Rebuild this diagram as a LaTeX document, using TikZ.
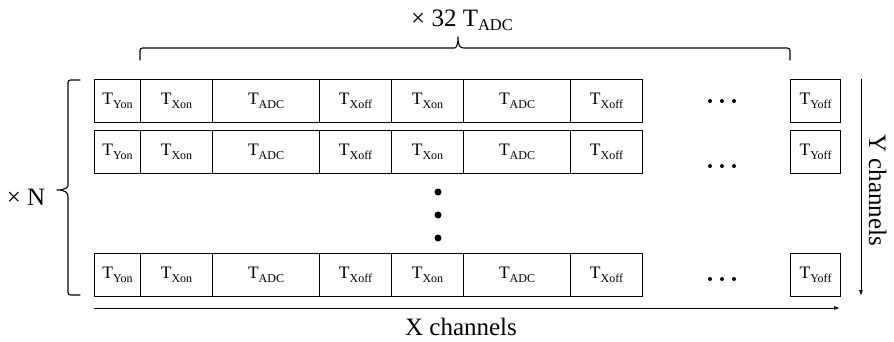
\documentclass[tikz,border=0pt]{standalone}
\usepackage{fontspec}
\setmainfont{Liberation Serif}
\usetikzlibrary{arrows.meta}
% T with a lowered roman subscript: #1 text, #2 size, #3 drop
\newcommand\tsub[3]{T\raisebox{-#3}{\fontsize{#2}{#2}\selectfont #1}}

\begin{document}
\begin{tikzpicture}[x=1pt,y=-1pt,
  cell/.style={draw, line width=1.1pt, inner sep=0pt, minimum height=43pt,
    anchor=north west, font=\fontsize{17.5}{20}\selectfont},
  lbl/.style={font=\fontsize{25}{29}\selectfont, inner sep=0pt},
  axis/.style={line width=0.9pt, -{Latex[length=6pt,width=4pt]}},
  brace/.style={line width=1.1pt, line join=round, line cap=round}]
\useasboundingbox (0,0) rectangle (894,342);

% three rows of timing slots
\foreach \r/\y in {1/79,2/130,3/253}{
  \foreach \i/\x/\w/\t in {1/94/46/Yon, 2/140/72/Xon, 3/212/107/ADC,
      4/319/72/Xoff, 5/391/72/Xon, 6/463/107/ADC, 7/570/72/Xoff, 8/790/50/Yoff}{
    \node[cell, minimum width=\w pt] (c\r-\i) at (\x,\y) {\tsub{\t}{12pt}{4pt}};
  }
}

% horizontal ellipses in each row
\foreach \yy in {101,166,279}{
  \foreach \xx in {710,722,734} \fill (\xx,\yy) circle (2pt);
}
% vertical ellipsis between rows
\foreach \yy in {192,215,238} \fill (438,\yy) circle (3.5pt);

% top brace and its label
\draw[brace] (140,60) [rounded corners=2.5pt] |- (452,48) [sharp corners]
  .. controls (456,48) and (458,46) .. (458,37)
  .. controls (458,46) and (460,48) .. (464,48)
  [rounded corners=2.5pt] -| (790,60);
\node[lbl, anchor=base] (rep) at (462,27) {× 32 \tsub{ADC}{16.5pt}{4pt}};

% left brace and its label
\draw[brace] (80,80) [rounded corners=2.5pt] -| (68,183) [sharp corners]
  .. controls (68,187) and (66,190) .. (57,190)
  .. controls (66,190) and (68,193) .. (68,197)
  [rounded corners=2.5pt] |- (80,295);
\node[lbl, anchor=base] (nrep) at (26,205) {× N};

% channel axes
\coordinate (xa) at (94,308);
\coordinate (xb) at (840,308);
\draw[axis] (xa) -- (xb);
\node[lbl, anchor=base] (xlab) at (461,335) {X channels};

\coordinate (ya) at (861,79);
\coordinate (yb) at (861,296);
\draw[axis] (ya) -- (yb);
\node[lbl, anchor=base, rotate=-90] (ylab) at (869,190) {Y channels};
\end{tikzpicture}
\end{document}
